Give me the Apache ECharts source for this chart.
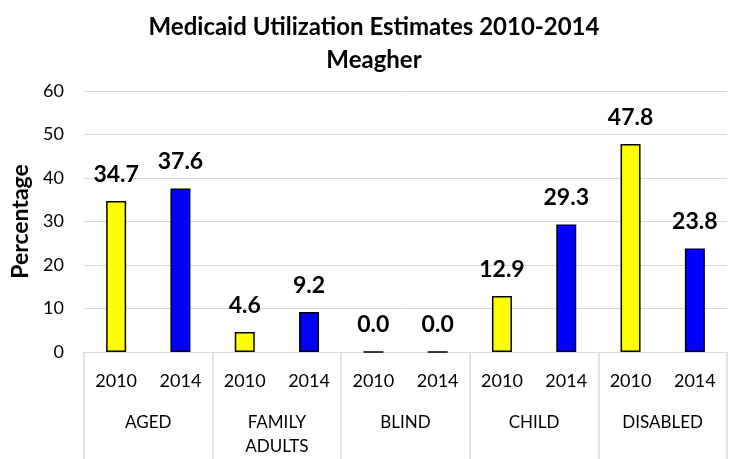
<!DOCTYPE html>
<html>
<head>
<meta charset="utf-8">
<script src="https://cdn.jsdelivr.net/npm/echarts@6/dist/echarts.min.js"></script>
<style>html,body{margin:0;padding:0;background:#fff}#c{width:732px;height:459px}</style>
</head>
<body>
<div id="c"></div>
<script>
const groups = ['AGED', 'FAMILY\nADULTS', 'BLIND', 'CHILD', 'DISABLED'];
const years = ['2010', '2014'];
const values2010 = [34.7, 4.6, 0.0, 12.9, 47.8];
const values2014 = [37.6, 9.2, 0.0, 29.3, 23.8];
const yTicks = [0, 10, 20, 30, 40, 50, 60];

const colors = {'2010': '#FFFF00', '2014': '#0000FF'};
const yearLabels = [];
const barData = [];
groups.forEach((g, i) => {
  years.forEach((y, j) => {
    yearLabels.push(y);
    const v = j === 0 ? values2010[i] : values2014[i];
    barData.push({value: v, itemStyle: {color: colors[y]}});
  });
});

const font = 'Lato, "Open Sans", sans-serif';
const chart = echarts.init(document.getElementById('c'));
chart.setOption({
  animation: false,
  title: {
    text: 'Medicaid Utilization Estimates 2010-2014\nMeagher',
    left: 369, top: 6, textAlign: 'center',
    textStyle: {fontFamily: font, fontWeight: 'bold', fontSize: 24, lineHeight: 33, color: '#000'}
  },
  grid: {left: 84, right: 5, top: 91, bottom: 106, containLabel: false},
  xAxis: [{
    type: 'category', data: yearLabels, position: 'bottom',
    axisLine: {show: true, lineStyle: {color: '#d9d9d9'}},
    axisTick: {show: false},
    axisLabel: {interval: 0, margin: 20, fontFamily: font, fontSize: 18, color: '#000'},
    splitLine: {show: false}
  }, {
    type: 'category', data: groups, position: 'bottom', gridIndex: 0,
    axisLine: {show: true, lineStyle: {color: '#d9d9d9'}},
    axisTick: {show: true, interval: 0, length: 110, lineStyle: {color: '#d9d9d9', width: 1.5}},
    axisLabel: {interval: 0, margin: 59, fontFamily: font, fontSize: 17, lineHeight: 24, color: '#000'},
    splitLine: {show: false}
  }],
  yAxis: {
    type: 'value', min: yTicks[0], max: yTicks[yTicks.length - 1], interval: 10,
    name: 'Percentage', nameLocation: 'middle', nameGap: 52,
    nameTextStyle: {fontFamily: font, fontWeight: 'bold', fontSize: 23, color: '#000'},
    axisLine: {show: false}, axisTick: {show: false},
    axisLabel: {margin: 20, fontFamily: font, fontSize: 18, color: '#000'},
    splitLine: {lineStyle: {color: '#d9d9d9', width: 1}}
  },
  series: [{
    type: 'bar', xAxisIndex: 0, data: barData, barWidth: 20,
    itemStyle: {borderColor: '#000', borderWidth: 1.5},
    label: {show: true, position: 'top', distance: 15,
      formatter: p => p.value.toFixed(1),
      fontFamily: font, fontWeight: 'bold', fontSize: 23, color: '#000'}
  }]
});
</script>
</body>
</html>
